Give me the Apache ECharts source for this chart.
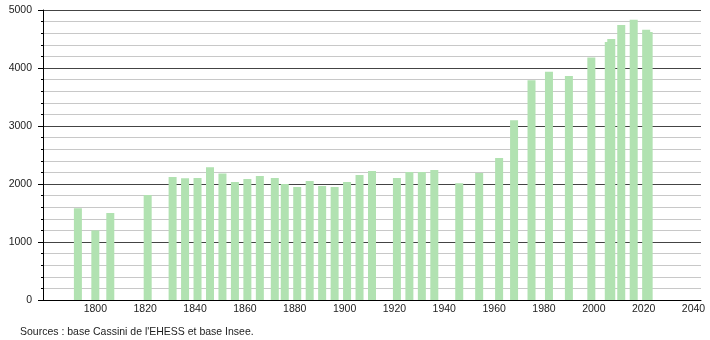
<!DOCTYPE html>
<html>
<head>
<meta charset="utf-8">
<script src="https://cdn.jsdelivr.net/npm/echarts@6/dist/echarts.min.js"></script>
<style>
html,body{margin:0;padding:0;background:#fff;}
#chart{width:710px;height:340px;}
</style>
</head>
<body>
<div id="chart"></div>
<script>
var years = [1793,1800,1806,1821,1831,1836,1841,1846,1851,1856,1861,1866,1872,1876,1881,1886,1891,1896,1901,1906,1911,1921,1926,1931,1936,1946,1954,1962,1968,1975,1982,1990,1999,2006,2007,2011,2016,2021,2022];
var population = [1580,1200,1500,1810,2120,2100,2105,2290,2180,2035,2085,2140,2105,2000,1950,2050,1965,1950,2035,2155,2225,2105,2205,2205,2240,2015,2190,2450,3100,3790,3935,3860,4180,4450,4500,4740,4830,4660,4620];
var xTickLabels = [1800,1820,1840,1860,1880,1900,1920,1940,1960,1980,2000,2020,2040];
var yTickLabels = [0,1000,2000,3000,4000,5000];
var sourceText = "Sources : base Cassini de l'EHESS et base Insee.";

var font = 'Liberation Sans, Arial, sans-serif';
var data = years.map(function(y,i){return [y, population[i]];});
function plain(v){return String(v);}

var chart = echarts.init(document.getElementById('chart'), null, {renderer:'canvas'});
chart.setOption({
  animation:false,
  backgroundColor:'#fff',
  title:{
    text: sourceText,
    left: 15, top: 322,
    textStyle:{fontFamily:font, fontSize:10.5, fontWeight:'normal', color:'#222'}
  },
  grid:{left:43, right:9, top:10, bottom:40, containLabel:false},
  xAxis:{
    type:'value', min:1779, max:2043,
    axisLine:{show:true, lineStyle:{color:'#000', width:1}},
    axisTick:{show:false},
    splitLine:{show:false},
    axisLabel:{
      customValues: xTickLabels,
      formatter: plain,
      margin:4, fontFamily:font, fontSize:10.5, color:'#222'
    }
  },
  yAxis:[{
    type:'value', min:0, max:5000, interval:200,
    axisLine:{show:true, lineStyle:{color:'#000'}},
    axisTick:{show:true, length:2, lineStyle:{color:'#000'}},
    axisLabel:{show:false},
    splitLine:{show:true, lineStyle:{color:['#444','#c8c8c8','#c8c8c8','#c8c8c8','#c8c8c8'], width:1}}
  },{
    type:'value', min:0, max:5000, interval:1000, position:'left',
    axisLine:{show:false},
    axisTick:{show:true, length:5, lineStyle:{color:'#000'}},
    axisLabel:{
      customValues: yTickLabels,
      formatter: plain,
      margin:11, fontFamily:font, fontSize:10.5, color:'#222'
    },
    splitLine:{show:false}
  }],
  series:[{
    type:'bar',
    data:data,
    barWidth:8,
    yAxisIndex:0,
    itemStyle:{color:'#b1e2b1'},
    emphasis:{disabled:true}
  }]
});
</script>
</body>
</html>
